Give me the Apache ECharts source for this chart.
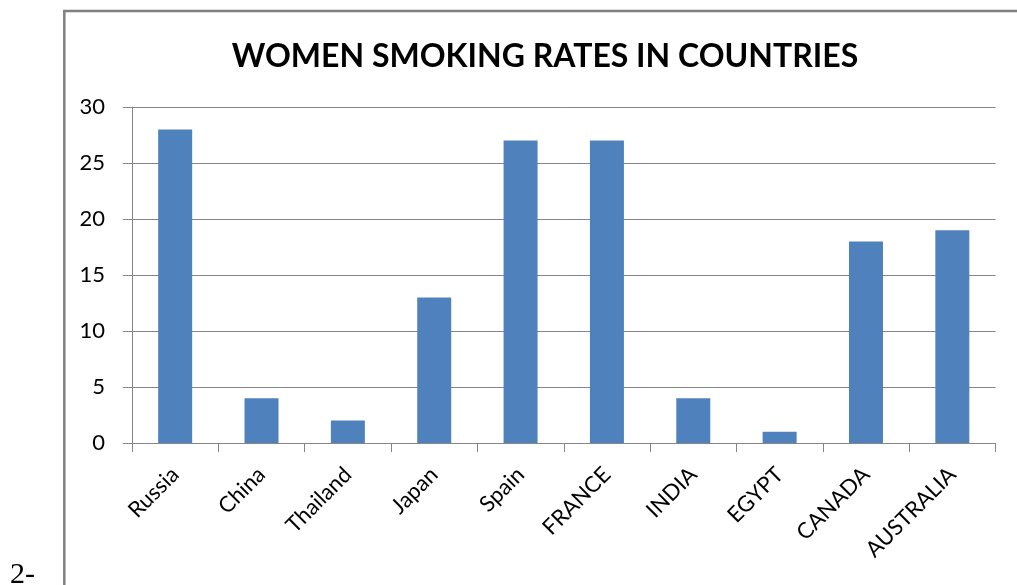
<!DOCTYPE html>
<html>
<head>
<meta charset="utf-8">
<script src="https://cdn.jsdelivr.net/npm/echarts@6/dist/echarts.min.js"></script>
<style>
html,body{margin:0;padding:0;background:#fff;}
#c{width:1017px;height:585px;}
</style>
</head>
<body>
<div id="c"></div>
<script>
var categories = ['Russia','China','Thailand','Japan','Spain','FRANCE','INDIA','EGYPT','CANADA','AUSTRALIA'];
var values = [28, 4, 2, 13, 27, 27, 4, 1, 18, 19];
var titleText = 'WOMEN SMOKING RATES IN COUNTRIES';
var sideNote = '2-';

var chart = echarts.init(document.getElementById('c'));
chart.setOption({
  animation: false,
  backgroundColor: '#ffffff',
  title: {
    text: titleText,
    left: 540,
    textAlign: 'center',
    top: 36,
    textStyle: {fontFamily: 'Lato', fontWeight: 'bold', fontSize: 32, color: '#000'}
  },
  graphic: [
    {type: 'polyline', shape: {points: [[64.3, 590], [64.3, 11], [1030, 11]]},
     style: {stroke: '#808080', lineWidth: 2.5, fill: null}},
    {type: 'text', x: 10, y: 560,
     style: {text: sideNote, font: '30px "Liberation Serif"', fill: '#000', verticalAlign: 'top'}}
  ],
  grid: {left: 132, right: 21.5, top: 107, bottom: 142, containLabel: false},
  xAxis: {
    type: 'category',
    data: categories,
    axisLine: {lineStyle: {color: '#868686', width: 1}},
    axisTick: {show: true, length: 9, interval: 0, alignWithLabel: false, lineStyle: {color: '#868686'}},
    axisLabel: {rotate: 45, interval: 0, fontFamily: 'Lato', fontSize: 22, color: '#000', margin: 28}
  },
  yAxis: {
    type: 'value',
    min: 0, max: 30, interval: 5,
    axisLine: {show: true, lineStyle: {color: '#868686', width: 1}},
    axisTick: {show: true, length: 9, lineStyle: {color: '#868686'}},
    splitLine: {show: true, lineStyle: {color: '#868686', width: 1}},
    axisLabel: {fontFamily: 'Lato', fontSize: 22, color: '#000', margin: 27}
  },
  series: [{
    type: 'bar',
    data: values,
    barWidth: 34,
    itemStyle: {color: '#4f81bd'}
  }]
});
</script>
</body>
</html>
